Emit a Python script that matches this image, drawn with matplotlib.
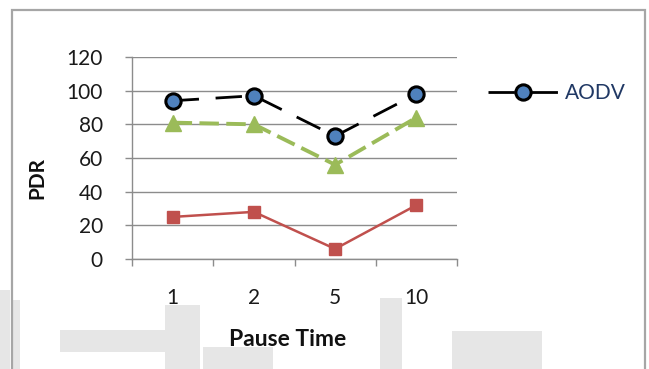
import matplotlib.pyplot as plt
from matplotlib.patches import Rectangle

# PDR vs pause time
pause_times = ['1', '2', '5', '10']
pdr_aodv = [94, 97, 73, 98]
pdr_green = [81, 80, 56, 84]
pdr_red = [25, 28, 6, 32]
y_ticks = [0, 20, 40, 60, 80, 100, 120]

W, H = 649, 369
plt.rcParams['font.family'] = ['Lato', 'DejaVu Sans']

fig = plt.figure(figsize=(W / 100, H / 100), dpi=100)


def px_rect(x0, y0, x1, y1, **kw):
    # rectangle given in pixel coords from the top-left corner
    return Rectangle((x0 / W, 1 - y1 / H), (x1 - x0) / W, (y1 - y0) / H,
                     transform=fig.transFigure, **kw)


# faint background shapes behind the lower part
wm = '#e6e6e6'
for r in [(0, 290, 10, 369), (13, 300, 20, 369), (60, 330, 195, 352),
          (165, 305, 200, 369), (203, 347, 273, 369), (380, 298, 402, 369),
          (452, 331, 542, 369)]:
    fig.add_artist(px_rect(*r, facecolor=wm, edgecolor='none', zorder=0))

# outer chart border
fig.add_artist(px_rect(12, 10, 645, 375, facecolor='none', edgecolor='#a6a6a6',
                       linewidth=1.6, zorder=1))

ax = fig.add_axes([132 / W, 1 - 259 / H, (457 - 132) / W, (259 - 57) / H])
ax.set_facecolor('none')

x = [i + 0.5 for i in range(len(pause_times))]

ax.plot(x, pdr_red, color='#C0504D', linewidth=1.8, marker='s', markersize=9,
        markerfacecolor='#C0504D', markeredgecolor='#C0504D', zorder=3)
ax.plot(x, pdr_green, color='#9BBB59', linewidth=2.8, dashes=(5.0, 1.9),
        marker='^', markersize=12, markerfacecolor='#9BBB59',
        markeredgecolor='#9BBB59', zorder=3)
ax.plot(x, pdr_aodv, color='black', linewidth=2.0, dashes=(9.5, 6),
        marker='o', markersize=11, markerfacecolor='#4F81BD',
        markeredgecolor='black', markeredgewidth=2.2, label='AODV', zorder=4)

ax.set_xlim(0, len(pause_times))
ax.set_ylim(0, 120)
ax.set_yticks(y_ticks)
ax.yaxis.grid(True, color='#8c8c8c', linewidth=1.0)
ax.set_axisbelow(True)

ax.set_xticks(range(len(pause_times) + 1))
ax.set_xticklabels([])
ax.set_xticks(x, minor=True)
ax.set_xticklabels(pause_times, minor=True)
ax.tick_params(axis='x', which='major', direction='out', length=5,
               color='#8c8c8c', width=1.0)
ax.tick_params(axis='x', which='minor', length=0, pad=21, labelsize=15,
               labelcolor='#1a1a1a')
ax.tick_params(axis='y', direction='out', length=5, color='#8c8c8c', width=1.0,
               pad=16, labelsize=15, labelcolor='#1a1a1a')

for side in ['top', 'right']:
    ax.spines[side].set_visible(False)
for side in ['left', 'bottom']:
    ax.spines[side].set_color('#8c8c8c')
    ax.spines[side].set_linewidth(1.0)

fig.text(37 / W, 1 - 178 / H, 'PDR', rotation=90, ha='center', va='center',
         fontsize=15, fontweight='bold', color='#111111')
fig.text(288 / W, 1 - 340 / H, 'Pause Time', ha='center', va='center',
         fontsize=16.5, fontweight='bold', color='#111111')

ax.legend(loc='center left', bbox_to_anchor=(488 / W, 1 - 93 / H),
          bbox_transform=fig.transFigure, frameon=False, borderpad=0,
          borderaxespad=0, handlelength=3.4, handletextpad=0.3,
          fontsize=15, labelcolor='#203864')

fig.savefig('out.png', dpi=100)
